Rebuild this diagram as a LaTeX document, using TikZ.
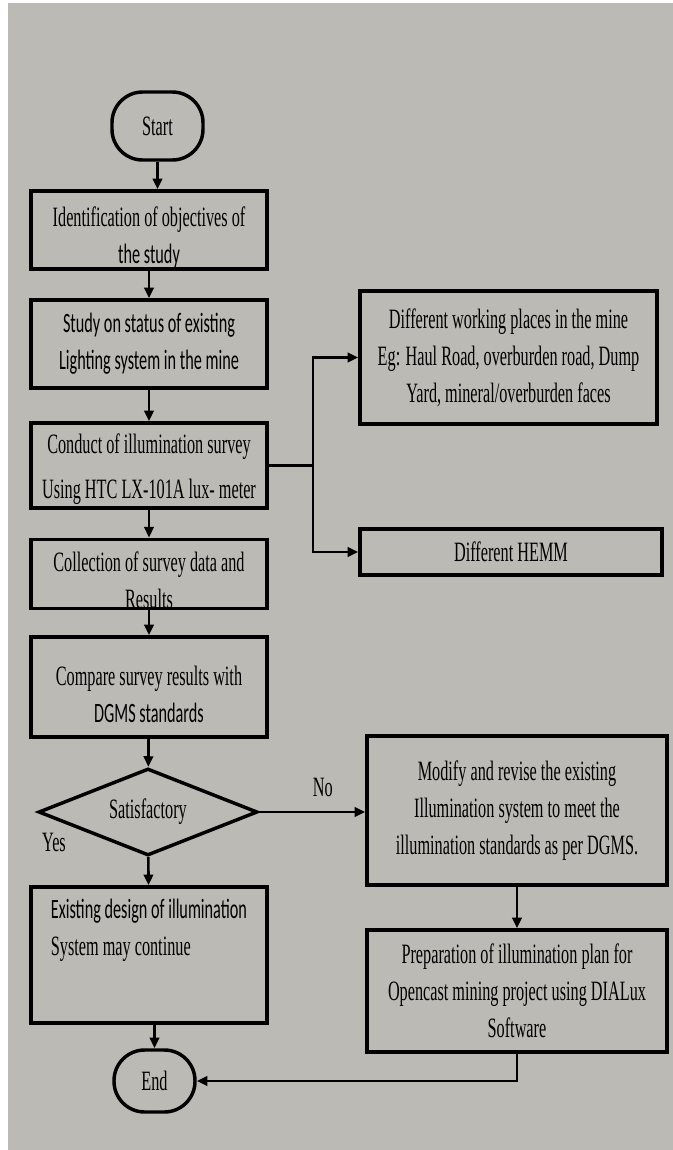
\documentclass[tikz,border=0pt]{standalone}
\usepackage{fontspec}
\setmainfont[FakeStretch=0.58]{Liberation Serif}
\newfontfamily\calfont[FakeStretch=0.58]{Carlito}
\usepackage{xcolor}
\usetikzlibrary{shapes.geometric,arrows.meta}
\definecolor{bggray}{RGB}{187,186,181}
\newcommand{\lowstrut}[1]{\rule{0pt}{#1}}

\begin{document}
\begin{tikzpicture}[x=0.75pt,y=0.75pt,yscale=-1,xscale=1,
  every node/.style={font=\fontsize{21}{27.75}\selectfont},
  box/.style={draw, line width=2.6pt, minimum width=177pt, inner sep=0pt, align=center},
  sidebox/.style={draw, line width=2.6pt, minimum width=225pt, inner sep=0pt, align=center},
  term/.style={draw, line width=2.6pt, rounded corners=23pt, inner sep=0pt},
  flow/.style={line width=2pt, -{Triangle[length=8pt,width=7pt]}}]
\useasboundingbox (0,0) rectangle (673,1150);

%Shape: Background
\fill [bggray] (8,3) rectangle (673,1150);

%Shape: Terminal
\node (start) at (157.5,126) [term, minimum width=68.25pt, minimum height=51pt] {Start};
%Shape: Rectangle
\node (ident) at (149,230) [box, minimum height=58.5pt] {\lowstrut{26pt}Identification of objectives of\\{\calfont the study}};
%Shape: Rectangle
\node (status) at (149,344) [box, minimum height=66pt] {\calfont Study on status of existing\\\calfont Lighting system in the mine};
%Shape: Rectangle
\node (survey) at (149,465.5) [box, minimum height=63.75pt] {\lowstrut{21pt}Conduct of illumination survey\\[6pt]Using HTC LX-101A lux- meter};
%Shape: Rectangle
\node (collect) at (149,574) [box, minimum height=51pt] {\lowstrut{24pt}Collection of survey data and\\Results};
%Shape: Rectangle
\node (compare) at (149,687) [box, minimum height=75pt] {\lowstrut{25pt}Compare survey results with\\{\calfont DGMS standards}};
%Shape: Diamond
\node (satis) at (148,812) [draw, diamond, line width=2.6pt, inner sep=0pt, aspect=2.5, minimum width=164.25pt, minimum height=65.25pt] {Satisfactory};
%Shape: Rectangle
\node (exist) at (149,955) [box, minimum height=102pt, align=left, text depth=42pt] {{\calfont Existing design of illumination}\\System may continue};
%Shape: Terminal
\node (end) at (154.5,1081) [term, minimum width=60.75pt, minimum height=46.5pt] {End};

%Shape: Rectangle
\node (places) at (508.5,357.5) [sidebox, minimum width=222.75pt, minimum height=99.75pt] {Different working places in the mine\\Eg: Haul Road, overburden road, Dump\\Yard, mineral/overburden faces};
%Shape: Rectangle
\node (hemm) at (511,552) [sidebox, minimum width=226.5pt, minimum height=34.5pt] {Different HEMM};
%Shape: Rectangle
\node (modify) at (517,810.5) [sidebox, minimum height=111.75pt] {Modify and revise the existing\\Illumination system to meet the\\illumination standards as per DGMS.};
%Shape: Rectangle
\node (plan) at (517,991) [sidebox, minimum height=91.5pt] {Preparation of illumination plan for\\Opencast mining project using DIALux\\Software};

% Text Node
\node (yes) at (54,842) {Yes};

%Straight Lines
\draw [flow] (start.south) -- (start.south |- ident.north);
\draw [flow] (ident) -- (status);
\draw [flow] (status) -- (survey);
\draw [flow] (survey) -- (collect);
\draw [flow] (collect) -- (compare);
\draw [flow] (compare) -- (satis);
\draw [flow] (satis) -- (exist);
\draw [flow] (end.north |- exist.south) -- (end.north);

%Straight Lines
\coordinate (fork) at (313,465.5);
\draw [line width=2pt] (survey.east) -- (fork);
\draw [flow] (fork) |- (places.west);
\draw [flow] (fork) |- (hemm.west);

%Straight Lines
\draw [flow] (satis.east) -- (satis.east -| modify.west) node [pos=0.6, above=7pt] (no) {No};
\draw [flow] (modify) -- (plan);
\draw [flow] (plan.south) |- (end.east);

\end{tikzpicture}
\end{document}
